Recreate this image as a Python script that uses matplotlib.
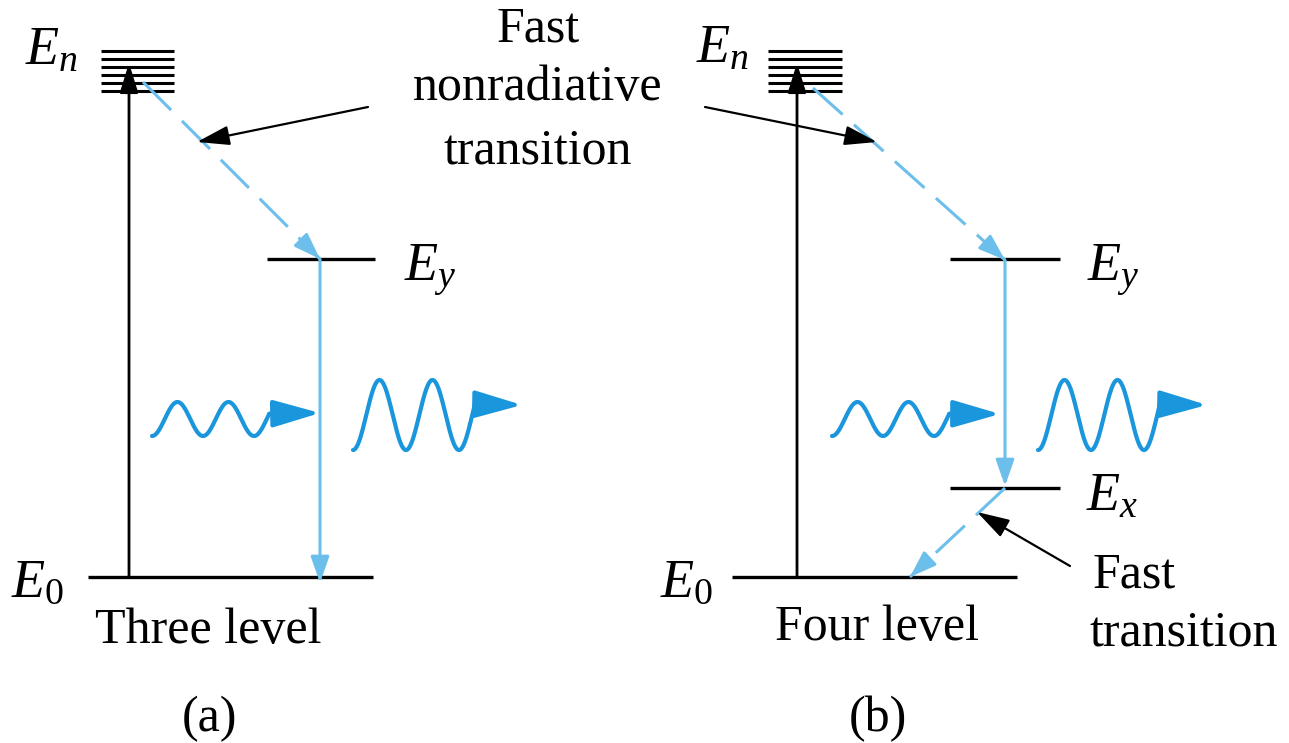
import numpy as np
import matplotlib as mpl
import matplotlib.pyplot as plt
from matplotlib.patches import FancyArrowPatch

# 字体: Times 风格衬线体
mpl.rcParams['font.family'] = ['Liberation Serif', 'DejaVu Serif']
mpl.rcParams['mathtext.fontset'] = 'custom'
mpl.rcParams['mathtext.rm'] = 'Liberation Serif'
mpl.rcParams['mathtext.it'] = 'Liberation Serif:italic'

# 颜色
light_blue = '#6cbfea'
wave_blue = '#1a96dc'

# 高能级 E_n 的细分线 (像素坐标, y 向下)
en_lines_y = [51, 59, 67, 75, 83, 91]
en_span_a = [101, 174]
en_span_b = [768, 842]

# 其它能级: [x起, x止, y]
ey_a = [267, 375, 259]
e0_a = [88, 373, 577]
ey_b = [950, 1060, 259]
ex_b = [950, 1060, 488]
e0_b = [732, 1017, 577]

# 能级标签
label_text = [r'$E_n$', r'$E_y$', r'$E_0$', r'$E_n$', r'$E_y$', r'$E_x$', r'$E_0$']
label_x = [25, 404, 11, 696, 1087, 1086, 660]
label_y = [64, 281, 597, 63, 281, 511, 597]

# 泵浦(黑色竖直箭头) x 位置, 从 E_0 到 E_n
pump_x = [129, 797]
pump_y = [577, 63]

# 快速无辐射跃迁 (虚线): 起点, 终点
dash_start = [(143, 82), (813, 88), (1005, 488)]
dash_end = [(320, 259), (1005, 260), (910, 577)]

# 受激辐射 (实线竖直箭头)
emit_x = [320, 1005]
emit_y0 = [259, 260]
emit_y1 = [583, 486]

# 光波: 起点 x, 中心 y, 振幅, 周期, 箭头尖端
wave_x0 = [152, 353, 832, 1038]
wave_c = [419, 415, 419, 415]
wave_amp = [17, 35, 17, 35]
wave_period = [51, 53, 51, 53]
wave_tip = [(320, 413), (522, 405), (1000, 414), (1207, 405)]

# 指示箭头 (黑色细线)
pointer_start = [(368, 107), (705, 107), (1070, 566)]
pointer_end = [(197, 142), (877, 142), (977, 512)]

fig = plt.figure(figsize=(12.89, 7.43), dpi=100)
ax = fig.add_axes([0, 0, 1, 1])
ax.set_xlim(0, 1289)
ax.set_ylim(743, 0)
ax.axis('off')


def arrow(p0, p1, color, lw, hl, hw, ms=20, ls='-'):
    a = FancyArrowPatch(p0, p1, arrowstyle='-|>,head_length=%s,head_width=%s' % (hl, hw),
                        mutation_scale=ms, color=color, lw=lw, linestyle=ls,
                        shrinkA=0, shrinkB=0, zorder=4)
    ax.add_patch(a)


# 能级线
for y in en_lines_y:
    ax.plot(en_span_a, [y, y], color='black', lw=2.2, solid_capstyle='butt')
    ax.plot(en_span_b, [y, y], color='black', lw=2.2, solid_capstyle='butt')
for lv in [ey_a, e0_a, ey_b, ex_b, e0_b]:
    ax.plot(lv[:2], [lv[2], lv[2]], color='black', lw=2.4, solid_capstyle='butt')

# 标签
for t, x, y in zip(label_text, label_x, label_y):
    ax.text(x, y, t, fontsize=39, ha='left', va='baseline')

# 泵浦箭头
for x in pump_x:
    arrow((x, pump_y[0]), (x, pump_y[1]), 'black', 2.0, 0.9, 0.28)

# 虚线跃迁 + 箭头
for (x0, y0), (x1, y1) in zip(dash_start, dash_end):
    ax.plot([x0, x1], [y0, y1], color=light_blue, lw=2.2, dashes=(13, 5))
    d = np.hypot(x1 - x0, y1 - y0)
    ux, uy = (x1 - x0) / d, (y1 - y0) / d
    arrow((x1 - 22 * ux, y1 - 22 * uy), (x1, y1), light_blue, 2.2, 0.8, 0.28)

# 受激辐射竖直箭头
for x, y0, y1 in zip(emit_x, emit_y0, emit_y1):
    arrow((x, y0), (x, y1), light_blue, 2.2, 0.8, 0.28)

# 光波
for x0, c, amp, per, tip in zip(wave_x0, wave_c, wave_amp, wave_period, wave_tip):
    xs = np.linspace(x0, x0 + 2.3 * per, 200)
    ys = c + amp * np.cos(2 * np.pi * (xs - x0) / per)
    ax.plot(xs, ys, color=wave_blue, lw=3.0, solid_capstyle='round')
    arrow((xs[-1], ys[-1]), tip, wave_blue, 3.0, 1.45, 0.42)

# 指示箭头
for p0, p1 in zip(pointer_start, pointer_end):
    arrow(p0, p1, 'black', 1.6, 1.0, 0.3)

# 文字
ax.text(538, 42, 'Fast', fontsize=36, ha='center', va='baseline')
ax.text(538, 100, 'nonradiative', fontsize=36, ha='center', va='baseline')
ax.text(538, 163, 'transition', fontsize=36, ha='center', va='baseline')
ax.text(1093, 587, 'Fast', fontsize=36, ha='left', va='baseline')
ax.text(1090, 645, 'transition', fontsize=36, ha='left', va='baseline')
ax.text(208, 643, 'Three level', fontsize=36, ha='center', va='baseline')
ax.text(877, 640, 'Four level', fontsize=36, ha='center', va='baseline')
ax.text(210, 731, '(a)', fontsize=36, ha='center', va='baseline')
ax.text(878, 731, '(b)', fontsize=36, ha='center', va='baseline')

plt.savefig('out.png', dpi=100)
